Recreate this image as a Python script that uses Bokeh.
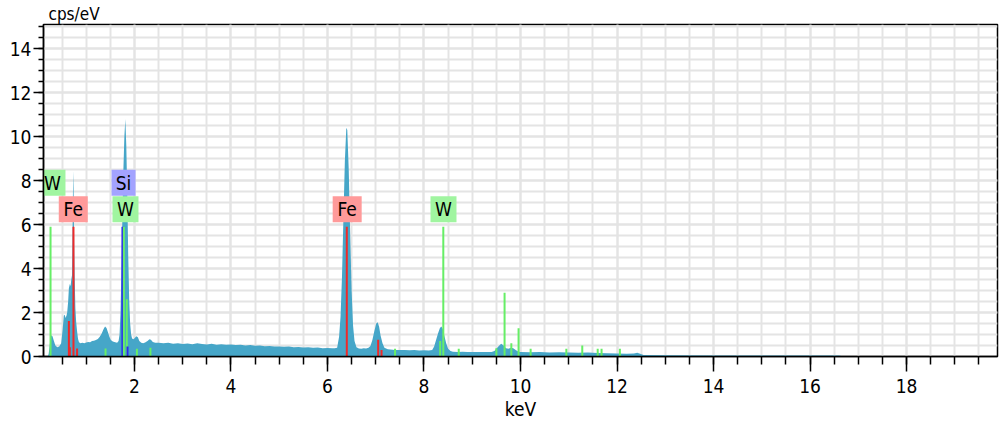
from bokeh.plotting import figure
from bokeh.models import Range1d, SingleIntervalTicker, ColumnDataSource
from bokeh.core.properties import value
from bokeh.embed import file_html
from bokeh.resources import INLINE

FONT = "DejaVu Sans Condensed"

# ---- spectrum (keV, cps/eV) ----
energy = [0.11, 0.20, 0.22, 0.24, 0.26, 0.28, 0.30, 0.33, 0.36, 0.40, 0.44, 0.48, 0.51, 0.535, 0.555,
          0.57, 0.59, 0.605, 0.625, 0.64, 0.66, 0.675, 0.69, 0.705, 0.715, 0.725, 0.732, 0.74, 0.75,
          0.76, 0.775, 0.79, 0.81, 0.83, 0.85, 0.88, 0.92, 0.96, 1.00, 1.04, 1.08, 1.12, 1.16, 1.20,
          1.24, 1.28, 1.32, 1.36, 1.39, 1.42, 1.45, 1.48, 1.51, 1.55, 1.60, 1.64, 1.67, 1.69, 1.71,
          1.73, 1.75, 1.77, 1.79, 1.81, 1.83, 1.85, 1.87, 1.89, 1.91, 1.93, 1.95, 1.98, 2.01, 2.04,
          2.07, 2.10, 2.14, 2.18, 2.22, 2.27, 2.31, 2.34, 2.38, 2.43, 2.50, 2.60, 2.70, 2.80, 2.90,
          3.00, 3.10, 3.20, 3.30, 3.40, 3.50, 3.60, 3.70, 3.80, 3.90, 4.00, 4.10, 4.20, 4.30, 4.40,
          4.50, 4.60, 4.70, 4.80, 4.90, 5.00, 5.10, 5.20, 5.30, 5.40, 5.50, 5.60, 5.70, 5.80, 5.90,
          6.00, 6.10, 6.15, 6.20, 6.24, 6.27, 6.30, 6.33, 6.36, 6.39, 6.41, 6.44, 6.47, 6.50, 6.53,
          6.56, 6.60, 6.65, 6.70, 6.75, 6.80, 6.85, 6.89, 6.93, 6.97, 7.01, 7.04, 7.07, 7.10, 7.14,
          7.18, 7.25, 7.30, 7.40, 7.50, 7.60, 7.70, 7.80, 7.90, 8.00, 8.10, 8.17, 8.21, 8.25, 8.29,
          8.33, 8.36, 8.39, 8.42, 8.46, 8.50, 8.55, 8.60, 8.70, 8.80, 8.90, 9.00, 9.10, 9.20, 9.30,
          9.40, 9.46, 9.50, 9.55, 9.60, 9.65, 9.70, 9.75, 9.80, 9.85, 9.90, 9.96, 10.0, 10.2, 10.4,
          10.6, 10.8, 11.0, 11.2, 11.4, 11.6, 11.8, 12.0, 12.2, 12.35, 12.42, 12.48, 12.55, 13.0,
          14.0, 15.0, 16.0, 16.6, 16.7, 19.9]
cps = [0.0, 0.02, 0.10, 0.45, 0.85, 0.97, 0.92, 0.70, 0.50, 0.42, 0.45, 0.60, 1.20, 1.85, 1.90,
       1.75, 1.85, 2.00, 2.50, 3.10, 3.30, 3.20, 3.50, 3.70, 5.50, 7.60, 8.45, 7.20, 5.00,
       3.60, 2.20, 1.60, 1.15, 0.80, 0.65, 0.60, 0.62, 0.60, 0.64, 0.66, 0.65, 0.70, 0.72, 0.75,
       0.80, 0.90, 1.05, 1.25, 1.36, 1.30, 1.10, 0.90, 0.75, 0.68, 0.65, 0.62, 0.70, 1.00, 2.00,
       4.00, 6.50, 8.50, 10.0, 10.8, 9.60, 7.40, 4.60, 2.60, 1.50, 1.00, 0.82, 0.78, 0.85, 0.92,
       0.88, 0.70, 0.62, 0.60, 0.64, 0.70, 0.78, 0.76, 0.66, 0.62, 0.63, 0.60, 0.62, 0.58, 0.60,
       0.57, 0.59, 0.56, 0.60, 0.57, 0.55, 0.58, 0.54, 0.56, 0.53, 0.55, 0.52, 0.54, 0.50, 0.52,
       0.49, 0.50, 0.47, 0.48, 0.45, 0.46, 0.44, 0.45, 0.42, 0.43, 0.41, 0.42, 0.40, 0.41, 0.38,
       0.39, 0.37, 0.38, 0.40, 0.90, 1.80, 3.60, 6.30, 8.90, 10.4, 10.3, 8.50, 5.60, 3.00, 1.40,
       0.70, 0.42, 0.36, 0.35, 0.37, 0.36, 0.40, 0.48, 0.75, 1.15, 1.50, 1.56, 1.35, 0.95, 0.60,
       0.40, 0.33, 0.32, 0.30, 0.29, 0.30, 0.28, 0.29, 0.27, 0.28, 0.27, 0.30, 0.45, 0.75, 1.05,
       1.30, 1.36, 1.25, 0.95, 0.60, 0.35, 0.25, 0.22, 0.21, 0.22, 0.20, 0.21, 0.20, 0.21, 0.20,
       0.21, 0.25, 0.35, 0.48, 0.58, 0.50, 0.38, 0.35, 0.40, 0.38, 0.30, 0.22, 0.20, 0.19, 0.20,
       0.18, 0.19, 0.18, 0.17, 0.18, 0.16, 0.15, 0.14, 0.13, 0.14, 0.17, 0.12, 0.07, 0.06,
       0.05, 0.05, 0.05, 0.05, 0.0, 0.0]

# ---- element marker lines ----
line_energy = [0.26, 0.64, 0.66, 0.735, 0.81, 1.40, 1.75, 1.78, 1.84, 1.855, 2.05, 2.33,
               6.40, 7.05, 7.12, 7.40, 8.335, 8.40, 8.72, 9.50, 9.67, 9.81, 9.96, 10.21,
               10.95, 11.28, 11.60, 11.68, 12.06]
line_height = [5.9, 1.62, 0.42, 5.9, 0.36, 0.36, 5.9, 5.9, 2.6, 0.45, 0.35, 0.40,
               5.9, 0.76, 0.30, 0.35, 0.70, 5.9, 0.35, 0.38, 2.9, 0.60, 1.28, 0.35,
               0.35, 0.50, 0.35, 0.35, 0.35]
line_element = ["W", "Fe", "Fe", "Fe", "Fe", "W", "Si", "W", "W", "Si", "W", "W",
                "Fe", "Fe", "Fe", "W", "W", "W", "W", "W", "W", "W", "W", "W",
                "W", "W", "W", "W", "W"]

# ---- element labels ----
label_text = ["W", "Fe", "Si", "W", "Fe", "W"]
label_energy = [0.30, 0.731, 1.773, 1.813, 6.408, 8.404]
label_level = [7.9, 6.7, 7.9, 6.7, 6.7, 6.7]

line_colors = {"W": "#66ee66", "Fe": "#ee2a2a", "Si": "#2a2aee"}
box_colors = {"W": "#a0f5a0", "Fe": "#ff9a9a", "Si": "#a3a3ff"}
box_widths = {"W": 26, "Fe": 29, "Si": 24}

p = figure(width=999, height=428, x_range=Range1d(0.114, 19.886), y_range=Range1d(0, 15.1),
           output_backend="svg", toolbar_location=None, title="cps/eV",
           min_border_left=43, min_border_right=2, min_border_top=24, min_border_bottom=72)
p.background_fill_color = "white"
p.border_fill_color = "white"
p.outline_line_color = "black"
p.outline_line_width = 1.5

p.title.text_font = FONT
p.title.text_font_size = "17px"
p.title.text_font_style = "normal"
p.title.text_color = "black"
p.title.align = "left"
p.title.offset = 5
p.title.standoff = 1

xt = SingleIntervalTicker(interval=2, num_minor_ticks=4)
yt = SingleIntervalTicker(interval=2, num_minor_ticks=4)
p.xaxis.ticker = xt
p.yaxis.ticker = yt
p.xgrid.ticker = xt
p.ygrid.ticker = yt
for g in (p.xgrid, p.ygrid):
    g.grid_line_color = "#e4e4e4"
    g.grid_line_width = 2
    g.minor_grid_line_color = "#e4e4e4"
    g.minor_grid_line_width = 2

for ax in (p.xaxis, p.yaxis):
    ax.axis_line_color = "black"
    ax.axis_line_width = 1.5
    ax.major_tick_line_color = "black"
    ax.minor_tick_line_color = "black"
    ax.major_tick_line_width = 1.5
    ax.minor_tick_line_width = 1.5
    ax.major_tick_in = 0
    ax.minor_tick_in = 0
    ax.major_label_text_font = FONT
    ax.major_label_text_font_size = "19px"
    ax.major_label_text_color = "black"

p.xaxis.major_tick_out = 15
p.xaxis.minor_tick_out = 8
p.xaxis.major_label_standoff = 7
p.xaxis.axis_label = "keV"
p.xaxis.axis_label_text_font = FONT
p.xaxis.axis_label_text_font_size = "19px"
p.xaxis.axis_label_text_font_style = "normal"
p.xaxis.axis_label_text_color = "black"
p.xaxis.axis_label_standoff = 2
p.yaxis.major_tick_out = 10
p.yaxis.minor_tick_out = 5
p.yaxis.major_label_standoff = 2

p.varea(x=energy, y1=[0.0] * len(energy), y2=cps, fill_color="#46a6c8")

src = ColumnDataSource(dict(e=line_energy, z=[0.0] * len(line_energy), h=line_height,
                            c=[line_colors[el] for el in line_element]))
p.segment(x0="e", y0="z", x1="e", y1="h", line_color="c", line_width=2, source=src)

lsrc = ColumnDataSource(dict(x=label_energy, y=label_level, t=label_text,
                             c=[box_colors[t] for t in label_text],
                             w=[box_widths[t] for t in label_text]))
p.rect(x="x", y="y", width="w", height=26, width_units="screen", height_units="screen",
       fill_color="c", line_color=None, source=lsrc)
p.text(x="x", y="y", text="t", text_align="center", text_baseline="middle",
       text_font=value(FONT), text_font_size="19px", text_color="black", source=lsrc)

open("out.html", "w").write(file_html(p, INLINE))
